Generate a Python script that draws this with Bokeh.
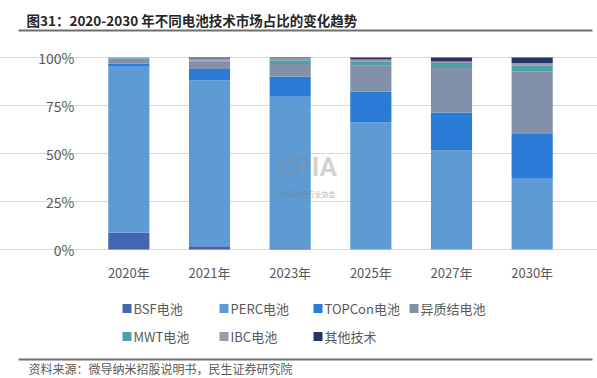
from bokeh.plotting import figure
from bokeh.models import ColumnDataSource, Range1d, FixedTicker, Grid
from bokeh.core.properties import value
from bokeh.embed import file_html
from bokeh.resources import INLINE

years = ["2020年", "2021年", "2023年", "2025年", "2027年", "2030年"]
bsf = [8.7, 1.7, 0.7, 0.0, 0.0, 0.0]
perc = [86.5, 86.4, 78.9, 66.2, 51.5, 36.8]
topcon = [1.7, 5.9, 10.4, 16.0, 19.9, 23.7]
hjt = [2.5, 3.8, 6.6, 13.5, 23.1, 32.2]
mwt = [0.3, 0.5, 2.0, 2.4, 2.6, 3.0]
ibc = [0.3, 1.2, 1.0, 0.9, 0.8, 1.4]
other = [0.0, 0.5, 0.4, 1.0, 2.1, 2.9]

series_keys = ["bsf", "perc", "topcon", "hjt", "mwt", "ibc", "other"]
series_names = ["BSF电池", "PERC电池", "TOPCon电池", "异质结电池", "MWT电池", "IBC电池", "其他技术"]
colors = ["#4565b0", "#5e9bd3", "#2a7bd6", "#8290aa", "#4fa0a6", "#a098aa", "#273566"]
y_ticks = [0, 25, 50, 75, 100]
y_tick_labels = ["0%", "25%", "50%", "75%", "100%"]

title_text = "图31：2020-2030 年不同电池技术市场占比的变化趋势"
source_text = "资料来源：微导纳米招股说明书，民生证券研究院"

CJK = "Noto Sans CJK SC"
W, H = 597, 376
RULE = "#6e6e6e"
LABEL = "#595959"

# plot-area geometry (pixels on the canvas)
FRAME_L, FRAME_R, FRAME_T, FRAME_B = 88, 572, 57, 249
n = len(years)
ux = (FRAME_R - FRAME_L) / n          # px per category slot
uy = (FRAME_B - FRAME_T) / 100.0      # px per percent
x0 = -0.5 - FRAME_L / ux
x1 = x0 + W / ux
y1 = 100 + FRAME_T / uy
y0 = y1 - H / uy


def dx(px):
    return x0 + px / ux


def dy(py):
    return y1 - py / uy


p = figure(width=W, height=H, x_range=Range1d(x0, x1), y_range=Range1d(y0, y1),
           x_axis_type=None, y_axis_type=None, output_backend="svg",
           toolbar_location=None, min_border=0)
p.outline_line_color = None
p.background_fill_color = "white"

# horizontal grid lines limited to the plot area
p.add_layout(Grid(dimension=1, ticker=FixedTicker(ticks=y_ticks), bounds=(-0.5, n - 0.5),
                  grid_line_color="#d9d9d9", grid_line_width=1))

# stacked bars
source = ColumnDataSource(dict(xi=list(range(n)), bsf=bsf, perc=perc, topcon=topcon, hjt=hjt,
                               mwt=mwt, ibc=ibc, other=other))
p.vbar_stack(series_keys, x="xi", width=0.51, fill_color=colors, line_color=None, source=source)

# axis tick labels
p.text(x=list(range(n)), y=[dy(272)] * n, text=years, text_font=value(CJK),
       text_font_size="13px", text_color=LABEL, text_align="center", text_baseline="middle")
p.text(x=[dx(74)] * len(y_ticks), y=y_ticks, text=y_tick_labels, text_font=value(CJK),
       text_font_size="14px", text_color=LABEL, text_align="right", text_baseline="middle")

# watermark
p.text(x=[dx(307)], y=[dy(166)], text=["CPIA"], text_font=value("Roboto"),
       text_font_style="bold", text_font_size="26px", text_color="#8a8a8a", text_alpha=0.4,
       text_align="center", text_baseline="middle")
p.text(x=[dx(307)], y=[dy(193)], text=["中国光伏行业协会"], text_font=value(CJK),
       text_font_size="7px", text_color="#7a7a7a", text_alpha=0.6,
       text_align="center", text_baseline="middle")

# title + rule
p.text(x=[dx(26)], y=[dy(19)], text=[title_text], text_font=value(CJK), text_font_style="bold",
       text_font_size="13.5px", text_color="#262626", text_align="left", text_baseline="middle")
p.segment(x0=[dx(18)], y0=[dy(30)], x1=[dx(592)], y1=[dy(30)], line_color=RULE, line_width=2)

# legend
col_x = [122, 219, 313, 409]
row_y = [308, 336]
sq_x, sq_y, tx, ty = [], [], [], []
for i in range(len(series_names)):
    cx = col_x[i % 4]
    cy = row_y[i // 4]
    sq_x.append(dx(cx + 4.5))
    sq_y.append(dy(cy))
    tx.append(dx(cx + 11))
    ty.append(dy(cy))
p.scatter(x=sq_x, y=sq_y, marker="square", size=9, fill_color=colors, line_color=None)
p.text(x=tx, y=ty, text=series_names, text_font=value(CJK), text_font_size="13px",
       text_color=LABEL, text_align="left", text_baseline="middle")

# footer rule + source
p.segment(x0=[dx(18)], y0=[dy(359)], x1=[dx(592)], y1=[dy(359)], line_color=RULE, line_width=2)
p.text(x=[dx(28)], y=[dy(368)], text=[source_text], text_font=value(CJK), text_font_size="12px",
       text_color=LABEL, text_align="left", text_baseline="middle")

open("out.html", "w").write(file_html(p, INLINE))
